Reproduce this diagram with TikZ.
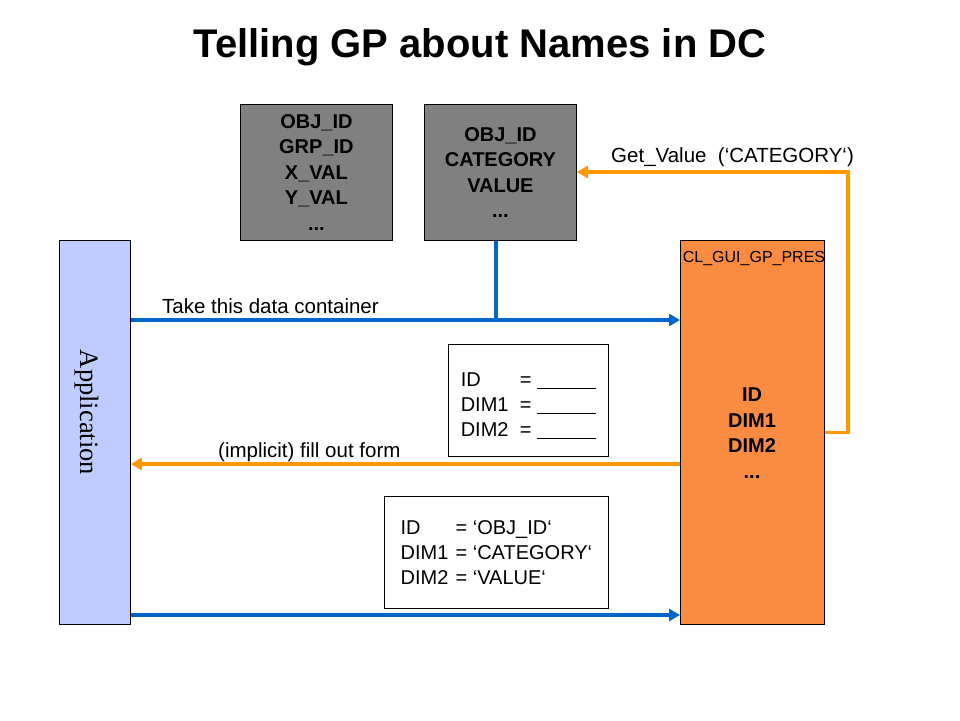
\documentclass[tikz,border=0pt]{standalone}
\usepackage{fontspec}
\setmainfont{Liberation Sans}
\newfontfamily\appfont{Liberation Serif}
\usetikzlibrary{arrows.meta}
\definecolor{tabgray}{RGB}{128,128,128}
\definecolor{appblue}{RGB}{192,204,255}
\definecolor{presorange}{RGB}{250,140,66}
\definecolor{flowblue}{RGB}{0,102,204}
\definecolor{floworange}{RGB}{255,153,0}

\begin{document}
\begin{tikzpicture}[x=1pt,y=-1pt,
    tabbox/.style={draw,line width=0.8pt,fill=tabgray,anchor=north west,minimum width=152pt,minimum height=136pt,align=center,font=\fontsize{20}{25.5}\selectfont\bfseries},
    formbox/.style={draw,line width=0.8pt,fill=white,anchor=north west,minimum height=112pt,align=left,font=\fontsize{20}{25}\selectfont},
    column/.style={draw,line width=0.8pt,anchor=north west,minimum height=384pt},
    lbl/.style={anchor=base west,inner sep=0pt,font=\fontsize{20.5}{24}\selectfont},
    blueflow/.style={draw=flowblue,line width=3.5pt},
    orangeflow/.style={draw=floworange,line width=3.5pt},
    tip/.style={-{Triangle[length=11pt,width=12pt]}}]
  \useasboundingbox (0,0) rectangle (960,720);
  \node[anchor=base,font=\fontsize{40}{48}\selectfont\bfseries] (title) at (480,57) {Telling GP about Names in DC};
  % data tables
  \node[tabbox] (objtab) at (240,104) {OBJ\_ID\\GRP\_ID\\X\_VAL\\Y\_VAL\\...};
  \node[tabbox] (cattab) at (424,104) {OBJ\_ID\\CATEGORY\\VALUE\\...};
  % application and presentation
  \node[column,fill=appblue,minimum width=71pt] (app) at (59,240) {};
  \node[rotate=-90,anchor=base,font=\appfont\fontsize{26.5}{30}\selectfont] (applbl) at (80,412.5) {Application};
  \node[column,fill=presorange,minimum width=144pt] (pres) at (680,240) {};
  \node[anchor=base,inner sep=0pt,font=\fontsize{16}{18}\selectfont] (presname) at (754,262.5) {CL\_GUI\_GP\_PRES};
  \node[align=center,font=\fontsize{20}{25.5}\selectfont\bfseries] (presdims) at (752,433) {ID\\DIM1\\DIM2\\...};
  % forms
  \node[formbox,minimum width=160pt] (blankform) at (448,344)
    {\rule{0pt}{25pt}\makebox[59pt][l]{ID}= \rule[-2pt]{59pt}{1.2pt}\\\makebox[59pt][l]{DIM1}= \rule[-2pt]{59pt}{1.2pt}\\\makebox[59pt][l]{DIM2}= \rule[-2pt]{59pt}{1.2pt}};
  \node[formbox,minimum width=224pt] (fullform) at (384,496)
    {\makebox[55pt][l]{ID}= ‘OBJ\_ID‘\\\makebox[55pt][l]{DIM1}= ‘CATEGORY‘\\\makebox[55pt][l]{DIM2}= ‘VALUE‘};
  % connectors
  \coordinate (join) at (496,320);
  \coordinate (filly) at (0,464);
  \coordinate (sendy) at (0,615);
  \coordinate (loop) at (848,172);
  \draw[blueflow] (cattab.south -| join) -- (join);
  \draw[blueflow,tip] (app.east |- join) -- (pres.west |- join);
  \draw[orangeflow,tip] (pres.west |- filly) -- (app.east |- filly);
  \draw[blueflow,tip] (app.east |- sendy) -- (pres.west |- sendy);
  \draw[orangeflow,tip] (pres.east) -| (loop) -- (cattab.east |- loop);
  % labels
  \node[lbl] (takelbl) at (162,313) {Take this data container};
  \node[lbl] (filllbl) at (218,457) {(implicit) fill out form};
  \node[lbl] (getlbl) at (611,162) {Get\_Value\ \ (‘CATEGORY‘)};
\end{tikzpicture}
\end{document}
